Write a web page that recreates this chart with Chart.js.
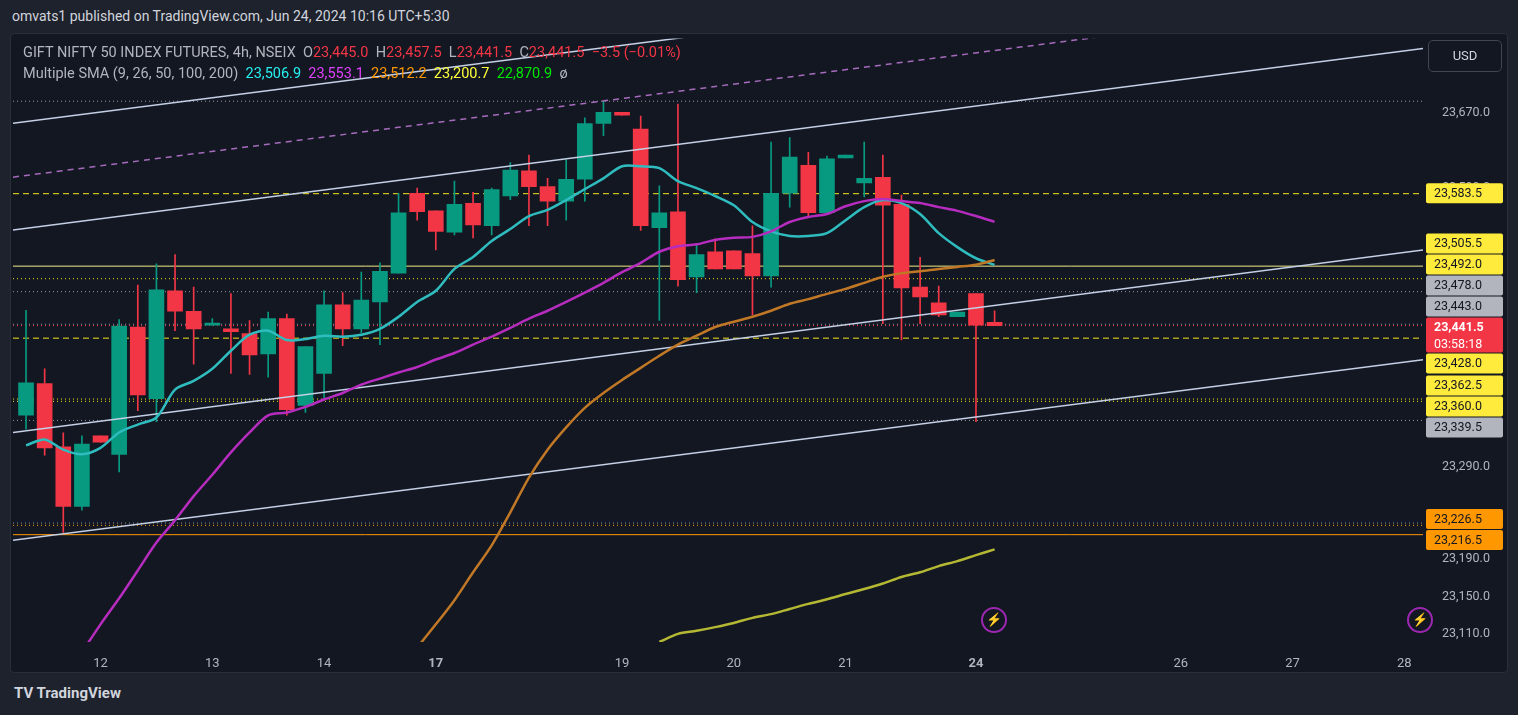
<!DOCTYPE html>
<html>
<head>
<meta charset="utf-8">
<script src="https://cdn.jsdelivr.net/npm/chart.js@4.4.1/dist/chart.umd.min.js"></script>
<style>
  html, body { margin: 0; padding: 0; background: #1e222d; width: 1518px; height: 715px; overflow: hidden; font-family: Roboto, "Noto Sans", sans-serif; }
  #top { position: absolute; left: 12px; top: 8px; color: #d1d4dc; font-size: 14px; }
  #panel { position: absolute; left: 10px; top: 33px; width: 1496px; height: 638px; background: #131722; border: 1px solid #2a2e39; border-radius: 4px; overflow: hidden; }
  #wrap { position: absolute; left: 2px; top: -14px; width: 1494px; height: 652px; }
  .legend { position: absolute; left: 12px; font-size: 14.5px; color: #b2b5be; white-space: nowrap; }
  .r { color: #f23645; }
  #usd { position: absolute; left: 1417px; top: 6px; width: 72px; height: 30px; border: 1px solid #434651; border-radius: 5px; color: #d1d4dc; font-size: 13px; line-height: 30px; text-align: center; }
  .bolt { position: absolute; width: 22px; height: 22px; border: 2px solid #9c27b0; border-radius: 50%; color: #b65fd0; font-size: 13px; text-align: center; line-height: 22px; }
  #brand { position: absolute; left: 14px; top: 684px; color: #d1d4dc; font-size: 15px; font-weight: bold; }
</style>
</head>
<body>
<div id="top">omvats1 published on TradingView.com, Jun 24, 2024 10:16 UTC+5:30</div>
<div id="panel">
  <div id="wrap"><canvas id="c"></canvas></div>
  <div class="legend" style="top:10px">GIFT NIFTY 50 INDEX FUTURES, 4h, NSEIX &nbsp;O<span class="r">23,445.0</span> &nbsp;H<span class="r">23,457.5</span> &nbsp;L<span class="r">23,441.5</span> &nbsp;C<span class="r">23,441.5</span> &nbsp;<span class="r">−3.5 (−0.01%)</span></div>
  <div class="legend" style="top:31px">Multiple SMA (9, 26, 50, 100, 200) &nbsp;<span style="color:#26f0f0">23,506.9</span> &nbsp;<span style="color:#e040fb">23,553.1</span> &nbsp;<span style="color:#ff9800">23,512.2</span> &nbsp;<span style="color:#ffff3b">23,200.7</span> &nbsp;<span style="color:#00e600">22,870.9</span> &nbsp;ø</div>
  <div id="usd">USD</div>
  <div class="bolt" style="left:970px;top:573px">⚡</div>
  <div class="bolt" style="left:1396px;top:573px">⚡</div>
</div>
<div id="brand">TV TradingView</div>
<script>
// 4h candles, x = candle number
const opens  = [23345,23379,23311,23247,23323,23303,23440,23363,23479,23457,23442,23438,23433,23411,23449,23355.5,23390,23464,23438,23467,23498,23584,23565,23542,23573,23549,23581,23608,23591,23575.5,23599,23659,23671,23653,23547,23564,23494,23521,23522,23519,23495,23584,23614,23563,23622,23595,23601,23572,23483,23466,23451,23476,23445];
const highs  = [23458,23395,23326,23323,23323,23448,23485,23508,23518,23483,23449,23476,23447,23456,23454,23419,23479,23477,23499,23509,23584,23589.5,23565,23597,23585,23589.5,23617,23625,23600,23620,23665,23683,23671,23667,23592,23680,23529,23535,23522,23549,23639,23644,23628,23624,23625,23639,23625,23582,23515,23484,23456,23476,23457.5];
const lows   = [23330,23302,23219,23243,23316,23284,23350,23338,23436,23400,23442,23390,23389,23386,23345,23348,23363,23420,23434,23421,23498,23555,23523,23539,23536,23539,23577,23549,23549,23555,23575.5,23646,23668,23544,23447,23484,23477,23502.5,23502.5,23453,23483,23569,23558,23562,23622,23580,23443.5,23426,23443.5,23451,23451,23338,23441.5];
const closes = [23380,23310,23247,23314,23316,23441,23367,23480,23457,23438,23443.5,23435,23410,23449,23351,23419,23464,23438,23469,23500,23563,23564,23543,23572,23550,23588,23609,23591,23575.5,23599,23659,23671,23668,23549,23563,23491,23518,23502.5,23502.5,23495,23584,23623,23563,23621,23625,23600,23571,23482,23472.5,23453,23456,23442,23441.5];

const sma9 = [23312.6,23319,23308,23303,23310,23326.5,23335,23342.6,23372.7,23382,23395,23414.5,23431.7,23436,23426,23427,23430.6,23429.6,23431.7,23438,23451,23467,23479,23502.5,23515.4,23532.6,23545.5,23559.4,23566,23576.6,23588.4,23600,23613,23613,23611,23597,23589.5,23581,23571,23553,23543,23538,23538,23541,23555,23569,23576.6,23573.4,23561.6,23541,23526,23514,23506.9];
const sma26 = [null,null,null,23090,23120,23148,23178,23208,23232,23258,23281,23305,23326.5,23345,23348,23354,23362,23369,23378,23384.5,23391,23397,23405,23412,23421,23429.6,23439,23449,23457.5,23467,23477,23487.5,23499,23509,23521,23527,23529,23533.7,23536,23537,23543,23553,23558.4,23561.6,23570,23575.5,23577.7,23575.5,23573.4,23569,23565,23559.4,23553.1];
const sma50 = [null,null,null,null,null,null,null,null,null,null,null,null,null,null,null,null,null,null,null,null,null,23095,23120,23146,23176,23205,23240.6,23278,23308,23332,23353,23369,23383,23396,23409,23421,23430.6,23440,23445.7,23451,23457.5,23465,23470,23475.7,23481,23487.5,23494,23498,23500,23502.5,23504.7,23507,23512.2];
const sma100 = [null,null,null,null,null,null,null,null,null,null,null,null,null,null,null,null,null,null,null,null,null,null,null,null,null,null,null,null,null,null,null,null,null,null,23101,23109.7,23113,23117,23121.5,23127,23131,23136.5,23142,23147,23152.6,23158,23164,23171,23176,23182.7,23188,23194.5,23200.7];

// drawings: [x0, price0, x1, price1]
const channelLines = [[0.3,23659.3,36.3,23751.6],[0.3,23544.4,76,23739.8],[0.3,23326.5,76,23523],[0.3,23210.6,76,23404.9]];
const dashedLine = [0.3,23601.3,58.4,23751.6];
const yellowDashed = [23583.5,23428];
const yellowDotted = [23492,23362.5,23360];
const yellowSolid = [23505.5];
const grayDotted = [23683,23478,23443,23339.5,23229];
const orangeDotted = [23226.5];
const orangeSolid = [23216.5];
const lastPrice = 23441.5;

const dayTicks = [5,11,17,23,33,39,45,52,63,69,75];
const dayLabels = ['12','13','14','17','19','20','21','24','26','27','28'];
const boldDays = ['17','24'];
const priceTicks = [23110,23150,23190,23290,23590,23670];

const axisLabels = [
  {p:23583.5,bg:'#ffeb3b',fg:'#131722'},{p:23505.5,bg:'#ffeb3b',fg:'#131722'},{p:23492,bg:'#ffeb3b',fg:'#131722'},
  {p:23478,bg:'#b2b5be',fg:'#131722'},{p:23443,bg:'#b2b5be',fg:'#131722'},{p:23441.5,bg:'#f23645',fg:'#ffffff',sub:'03:58:18'},
  {p:23428,bg:'#ffeb3b',fg:'#131722'},{p:23362.5,bg:'#ffeb3b',fg:'#131722'},{p:23360,bg:'#ffeb3b',fg:'#131722'},
  {p:23339.5,bg:'#b2b5be',fg:'#131722'},{p:23226.5,bg:'#ff9800',fg:'#131722'},{p:23216.5,bg:'#ff9800',fg:'#131722'}
];

const X_MIN = 0.3, X_MAX = 76;
const UP = '#089981', DOWN = '#f23645';
const idx = opens.map((_, i) => i + 1);
const candleColors = opens.map((o, i) => closes[i] >= o ? UP : DOWN);

function hline(values, color, dash, width) {
  return values.map(v => ({
    type: 'line', data: [{x: X_MIN, y: v}, {x: X_MAX, y: v}],
    borderColor: color, borderWidth: width || 1, borderDash: dash, pointRadius: 0, order: 5
  }));
}
function segment(s, color, dash, width) {
  return {
    type: 'line', data: [{x: s[0], y: s[1]}, {x: s[2], y: s[3]}],
    borderColor: color, borderWidth: width, borderDash: dash || [], pointRadius: 0, order: 2
  };
}
function smaLine(values, color) {
  return {
    type: 'line', data: values.map((v, i) => ({x: i + 1, y: v})),
    borderColor: color, borderWidth: 2.5, pointRadius: 0, tension: 0.3, order: 1
  };
}

const fmt = v => v.toLocaleString('en-US', {minimumFractionDigits: 1, maximumFractionDigits: 1});

// price labels on the axis, pushed apart where they overlap
const priceBoxes = {
  id: 'priceBoxes',
  afterDraw(chart) {
    const {ctx, chartArea, scales} = chart;
    const y = scales.y;
    let items = axisLabels.map(l => ({...l, h: l.sub ? 36 : 21, ideal: y.getPixelForValue(l.p)}));
    items.sort((a, b) => a.ideal - b.ideal);
    let groups = items.map(it => ({items: [it], top: it.ideal - it.h / 2, h: it.h}));
    let merged = true;
    while (merged) {
      merged = false;
      for (let i = 0; i < groups.length - 1; i++) {
        const a = groups[i], b = groups[i + 1];
        if (a.top + a.h > b.top) {
          const all = a.items.concat(b.items);
          const h = a.h + b.h;
          const mean = all.reduce((s, it) => s + it.ideal, 0) / all.length;
          groups.splice(i, 2, {items: all, top: mean - h / 2, h: h});
          merged = true;
          break;
        }
      }
    }
    ctx.save();
    ctx.textBaseline = 'middle';
    const x0 = chartArea.right + 3;
    groups.forEach(g => {
      let t = g.top;
      g.items.forEach(it => {
        ctx.fillStyle = it.bg;
        ctx.beginPath();
        ctx.roundRect(x0, t, 77, it.h - 1, 2);
        ctx.fill();
        ctx.fillStyle = it.fg;
        ctx.font = (it.sub ? 'bold ' : '') + '12.5px Roboto, sans-serif';
        ctx.fillText(fmt(it.p), x0 + 8, t + 10.5);
        if (it.sub) {
          ctx.font = '12.5px Roboto, sans-serif';
          ctx.fillText(it.sub, x0 + 8, t + 27);
        }
        t += it.h;
      });
    });
    ctx.restore();
  }
};

const datasets = [
  {
    type: 'bar', data: idx.map((x, i) => ({x: x, y: [lows[i], highs[i]]})),
    backgroundColor: candleColors, barThickness: 1, grouped: false, order: 4
  },
  {
    type: 'bar', data: idx.map((x, i) => ({x: x, y: [opens[i], closes[i]]})),
    backgroundColor: candleColors, barThickness: 15, minBarLength: 2, grouped: false, order: 3
  },
  ...hline(grayDotted, '#9598a1', [1, 3]),
  ...hline(yellowDotted, '#f5e31d', [1, 3]),
  ...hline(yellowDashed, '#f5e31d', [6, 4]),
  ...hline(yellowSolid, '#f2ec8a', []),
  ...hline(orangeDotted, '#ff9800', [1, 3]),
  ...hline(orangeSolid, '#ff9800', []),
  ...hline([lastPrice], '#f23645', [1, 3]),
  ...channelLines.map(s => segment(s, '#c3d0e6', [], 1.5)),
  segment(dashedLine, '#a66bbd', [6, 5], 1.5),
  smaLine(sma100, '#b5b832'),
  smaLine(sma50, '#c07826'),
  smaLine(sma26, '#b62cbf'),
  smaLine(sma9, '#2fbcbf')
];

new Chart(document.getElementById('c'), {
  data: {datasets},
  plugins: [priceBoxes],
  options: {
    responsive: true, maintainAspectRatio: false, animation: false,
    plugins: {legend: {display: false}, tooltip: {enabled: false}},
    layout: {padding: 0},
    scales: {
      x: {
        type: 'linear', min: X_MIN, max: X_MAX, offset: false,
        grid: {display: false}, border: {display: false},
        afterBuildTicks: s => { s.ticks = dayTicks.map(v => ({value: v})); },
        afterFit: s => { s.height = 30; },
        ticks: {
          color: '#b2b5be', padding: 6, maxRotation: 0, autoSkip: false,
          font: ctx => ({family: 'Roboto', size: 13, weight: boldDays.includes(dayLabels[dayTicks.indexOf(ctx.tick && ctx.tick.value)]) ? 'bold' : 'normal'}),
          callback: v => dayLabels[dayTicks.indexOf(v)]
        }
      },
      y: {
        type: 'linear', position: 'right', min: 23101, max: 23750.5,
        grid: {display: false}, border: {display: false},
        afterBuildTicks: s => { s.ticks = priceTicks.map(v => ({value: v})); },
        afterFit: s => { s.width = 84; },
        ticks: {color: '#b2b5be', padding: 11, font: {family: 'Roboto', size: 12.5}, callback: v => fmt(v)}
      }
    }
  }
});
</script>
</body>
</html>
